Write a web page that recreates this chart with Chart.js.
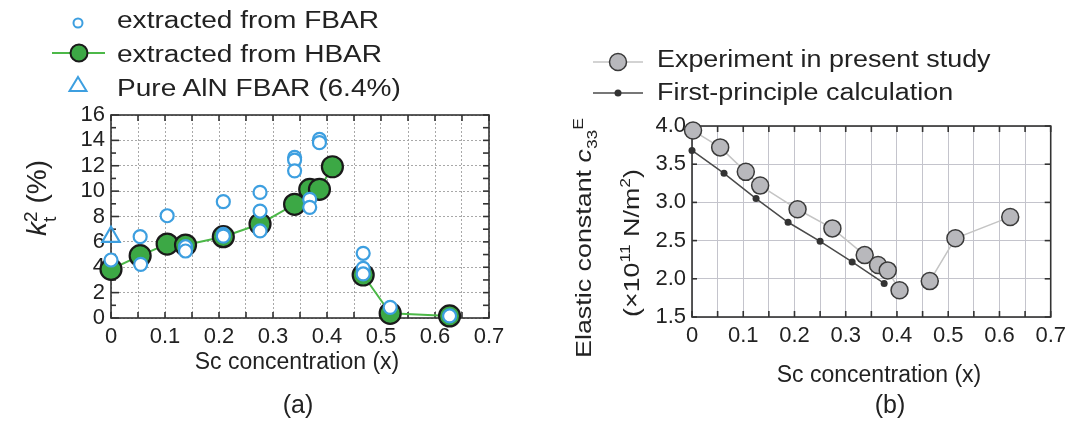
<!DOCTYPE html>
<html>
<head>
<meta charset="utf-8">
<script src="https://cdn.jsdelivr.net/npm/chart.js@4"></script>
<style>
  html, body { margin: 0; padding: 0; background: #fff; }
  body { width: 1072px; height: 445px; position: relative; overflow: hidden;
         font-family: "Liberation Sans", Arial, sans-serif; color: #222; }
  canvas { position: absolute; top: 0; }
  .t { position: absolute; white-space: nowrap; line-height: 23px; font-size: 23px; }
  .leg { transform: scaleX(1.22); transform-origin: left center; }
  .legb { transform: scaleX(1.17); transform-origin: left center; }
  .rot { position: absolute; white-space: nowrap; }
  .ctr { transform: translateX(-50%); }
  svg { position: absolute; left: 0; top: 0; }
</style>
</head>
<body>
<canvas id="cA" width="540" height="445" style="left:0px"></canvas>
<canvas id="cB" width="532" height="445" style="left:540px"></canvas>

<svg width="1072" height="445">
  <!-- legend (a) markers -->
  <circle cx="78" cy="23" r="4.5" fill="#fff" stroke="#3d9fe0" stroke-width="2"/>
  <line x1="52" y1="53" x2="105" y2="53" stroke="#4cb848" stroke-width="2"/>
  <circle cx="79" cy="53" r="8.5" fill="#3ca845" stroke="#1a1a1a" stroke-width="2"/>
  <polygon points="78,77 86.5,91 69.5,91" fill="none" stroke="#3d9fe0" stroke-width="2"/>
  <!-- legend (b) markers -->
  <line x1="593" y1="62" x2="643" y2="62" stroke="#c4c4c4" stroke-width="1.5"/>
  <circle cx="618" cy="62" r="8.5" fill="#b8b8bc" stroke="#3a3a3a" stroke-width="1.5"/>
  <line x1="593" y1="93" x2="643" y2="93" stroke="#4a4a4a" stroke-width="1.5"/>
  <circle cx="618" cy="93" r="3.5" fill="#333"/>
</svg>

<div class="t leg" style="left:117px; top:9px;">extracted from FBAR</div>
<div class="t leg" style="left:117px; top:43px;">extracted from HBAR</div>
<div class="t leg" style="left:117px; top:77px;">Pure AlN FBAR (6.4%)</div>

<div class="t legb" style="left:657px; top:48px;">Experiment in present study</div>
<div class="t legb" style="left:657px; top:81px;">First-principle calculation</div>

<div class="rot" style="left:40px; top:198px; font-size:28px; transform: translate(-50%, -50%) rotate(-90deg);"><i>k</i><span style="display:inline-block; vertical-align:-0.5em; line-height:1.0; font-size:68%; text-align:left;"><span style="display:block">2</span><span style="display:block">t</span></span> (%)</div>

<div class="rot" style="left:585px; top:238px; font-size:22px; transform: translate(-50%, -50%) rotate(-90deg) scaleX(1.22);">Elastic constant <i>c</i><sub style="font-size:65%">33</sub><sup style="font-size:65%">E</sup></div>
<div class="rot" style="left:631px; top:243px; font-size:22px; transform: translate(-50%, -50%) rotate(-90deg) scaleX(1.22);">(×10<sup style="font-size:65%">11</sup> N/m<sup style="font-size:65%">2</sup>)</div>

<div class="t ctr" style="left:297px; top:350px;">Sc concentration (x)</div>
<div class="t ctr" style="left:879px; top:363px;">Sc concentration (x)</div>

<div class="t ctr" style="left:298px; top:393px; font-size:25px;">(a)</div>
<div class="t ctr" style="left:890px; top:393px; font-size:25px;">(b)</div>

<script>
// ---------- data (a) ----------
const fbarX = [0, 0.054, 0.055, 0.104, 0.138, 0.138, 0.208, 0.208, 0.208, 0.276, 0.276, 0.276,
               0.34, 0.34, 0.34, 0.368, 0.368, 0.386, 0.386, 0.467, 0.467, 0.467, 0.517, 0.627];
const fbarY = [4.57, 6.41, 4.23, 8.06, 5.62, 5.28, 9.17, 6.59, 6.45, 9.9, 8.43, 6.86,
               12.66, 12.45, 11.6, 9.35, 8.72, 14.08, 13.82, 5.1, 3.91, 3.47, 0.84, 0.16];
const hbarX = [0, 0.054, 0.104, 0.138, 0.208, 0.276, 0.34, 0.368, 0.386, 0.41, 0.467, 0.517, 0.627];
const hbarY = [3.84, 4.91, 5.83, 5.75, 6.41, 7.41, 8.96, 10.14, 10.14, 11.92, 3.39, 0.37, 0.16];
const hbarGapAfter = [9];
const pureAlnX = [0];
const pureAlnY = [6.4];

// ---------- data (b) ----------
const expX = [0.002, 0.055, 0.105, 0.133, 0.206, 0.274, 0.337, 0.363, 0.382, 0.405, 0.464, 0.514, 0.621];
const expY = [3.94, 3.72, 3.40, 3.22, 2.91, 2.66, 2.31, 2.18, 2.11, 1.85, 1.97, 2.53, 2.81];
const expGapAfter = [9];
const calcX = [0, 0.0625, 0.125, 0.1875, 0.25, 0.3125, 0.375];
const calcY = [3.68, 3.38, 3.05, 2.74, 2.49, 2.22, 1.94];

const xTickLabels = ['0', '0.1', '0.2', '0.3', '0.4', '0.5', '0.6', '0.7'];

const pts = (xs, ys) => xs.map((x, i) => ({ x, y: ys[i] }));
const FONT = { family: '"Liberation Sans", Arial, sans-serif', size: 22 };

function xTickCb(v) {
  const r = Math.round(v * 10);
  return Math.abs(v * 10 - r) < 1e-6 ? xTickLabels[r] : '';
}

const frameTicks = {
  id: 'frameTicks',
  beforeDatasetsDraw(chart, args, o) {
    const { ctx, chartArea: a, scales: { x, y } } = chart;
    ctx.save();
    ctx.strokeStyle = o.color;
    ctx.lineWidth = o.width;
    const ln = (x1, y1, x2, y2) => { ctx.beginPath(); ctx.moveTo(x1, y1); ctx.lineTo(x2, y2); ctx.stroke(); };
    x.ticks.forEach(t => {
      const px = x.getPixelForValue(t.value);
      ln(px, a.bottom, px, a.bottom - o.len);
      ln(px, a.top, px, a.top + o.len);
    });
    y.ticks.forEach(t => {
      const py = y.getPixelForValue(t.value);
      const major = o.majorY(t.value);
      ln(a.left, py, a.left + (major ? o.len + 2 : o.len - 1), py);
      ln(a.right, py, a.right - o.len, py);
    });
    ctx.strokeRect(a.left, a.top, a.right - a.left, a.bottom - a.top);
    ctx.restore();
  }
};

// ---------- chart (a) ----------
new Chart(document.getElementById('cA'), {
  type: 'scatter',
  plugins: [frameTicks],
  data: {
    datasets: [
      { label: 'extracted from FBAR', data: pts(fbarX, fbarY), order: 0, clip: false,
        pointStyle: 'circle', pointRadius: 6.5, pointBorderWidth: 2.2,
        borderColor: '#3d9fe0', backgroundColor: '#ffffff' },
      { label: 'Pure AlN FBAR (6.4%)', data: pts(pureAlnX, pureAlnY), order: 0, clip: false,
        pointStyle: 'triangle', pointRadius: 10, pointBorderWidth: 2.2,
        borderColor: '#3d9fe0', backgroundColor: 'rgba(255,255,255,0)' },
      { label: 'extracted from HBAR', data: pts(hbarX, hbarY), order: 1, clip: false,
        showLine: true, borderColor: '#4cb848', borderWidth: 2,
        segment: { borderColor: c => hbarGapAfter.includes(c.p0DataIndex) ? 'rgba(0,0,0,0)' : '#4cb848' },
        pointStyle: 'circle', pointRadius: 10.5, pointBorderWidth: 2.2,
        pointBorderColor: '#1a1a1a', pointBackgroundColor: '#3ca845' }
    ]
  },
  options: {
    responsive: false, animation: false, devicePixelRatio: 1,
    layout: { padding: { left: 0, top: 115, right: 51, bottom: 87 } },
    plugins: { legend: { display: false }, tooltip: { enabled: false },
      frameTicks: { color: '#333', width: 1.6, len: 6, majorY: v => v % 2 === 0 } },
    scales: {
      x: { type: 'linear', min: 0, max: 0.7,
        afterFit: s => { s.height = 40; },
        ticks: { stepSize: 0.05, autoSkip: false, maxRotation: 0, padding: 6,
                 color: '#222', font: FONT, callback: xTickCb },
        grid: { color: '#a8a8a8', lineWidth: 1, drawTicks: false },
        border: { display: false, dash: [2, 2] } },
      y: { type: 'linear', min: 0, max: 16,
        afterFit: s => { s.width = 111; },
        ticks: { stepSize: 1, autoSkip: false, padding: 6, color: '#222', font: FONT,
                 callback: v => (v % 2 === 0 ? String(v) : '') },
        grid: { color: c => (c.tick && c.tick.value % 2 === 0 ? '#a8a8a8' : 'rgba(0,0,0,0)'),
                lineWidth: 1, drawTicks: false },
        border: { display: false, dash: [2, 2] } }
    }
  }
});

// ---------- chart (b) ----------
new Chart(document.getElementById('cB'), {
  type: 'scatter',
  plugins: [frameTicks],
  data: {
    datasets: [
      { label: 'Experiment in present study', data: pts(expX, expY), order: 0, clip: false,
        showLine: true, borderColor: '#c4c4c4', borderWidth: 1.5,
        segment: { borderColor: c => expGapAfter.includes(c.p0DataIndex) ? 'rgba(0,0,0,0)' : '#c4c4c4' },
        pointStyle: 'circle', pointRadius: 8.5, pointBorderWidth: 1.5,
        pointBorderColor: '#3a3a3a', pointBackgroundColor: '#b8b8bc' },
      { label: 'First-principle calculation', data: pts(calcX, calcY), order: 1, clip: false,
        showLine: true, borderColor: '#4a4a4a', borderWidth: 1.5,
        pointStyle: 'circle', pointRadius: 3.5, pointBorderWidth: 0,
        pointBackgroundColor: '#333' }
    ]
  },
  options: {
    responsive: false, animation: false, devicePixelRatio: 1,
    layout: { padding: { left: 0, top: 126, right: 19, bottom: 88 } },
    plugins: { legend: { display: false }, tooltip: { enabled: false },
      frameTicks: { color: '#333', width: 1.6, len: 6, majorY: v => false } },
    scales: {
      x: { type: 'linear', min: 0, max: 0.7,
        afterFit: s => { s.height = 40; },
        ticks: { stepSize: 0.05, autoSkip: false, maxRotation: 0, padding: 6,
                 color: '#222', font: FONT, callback: xTickCb },
        grid: { color: '#c4c4cc', lineWidth: 1, drawTicks: false },
        border: { display: false } },
      y: { type: 'linear', min: 1.5, max: 4.0,
        afterFit: s => { s.width = 152; },
        ticks: { stepSize: 0.5, autoSkip: false, padding: 6, color: '#222', font: FONT,
                 callback: v => v.toFixed(1) },
        grid: { color: '#c4c4cc', lineWidth: 1, drawTicks: false },
        border: { display: false } }
    }
  }
});
</script>
</body>
</html>
